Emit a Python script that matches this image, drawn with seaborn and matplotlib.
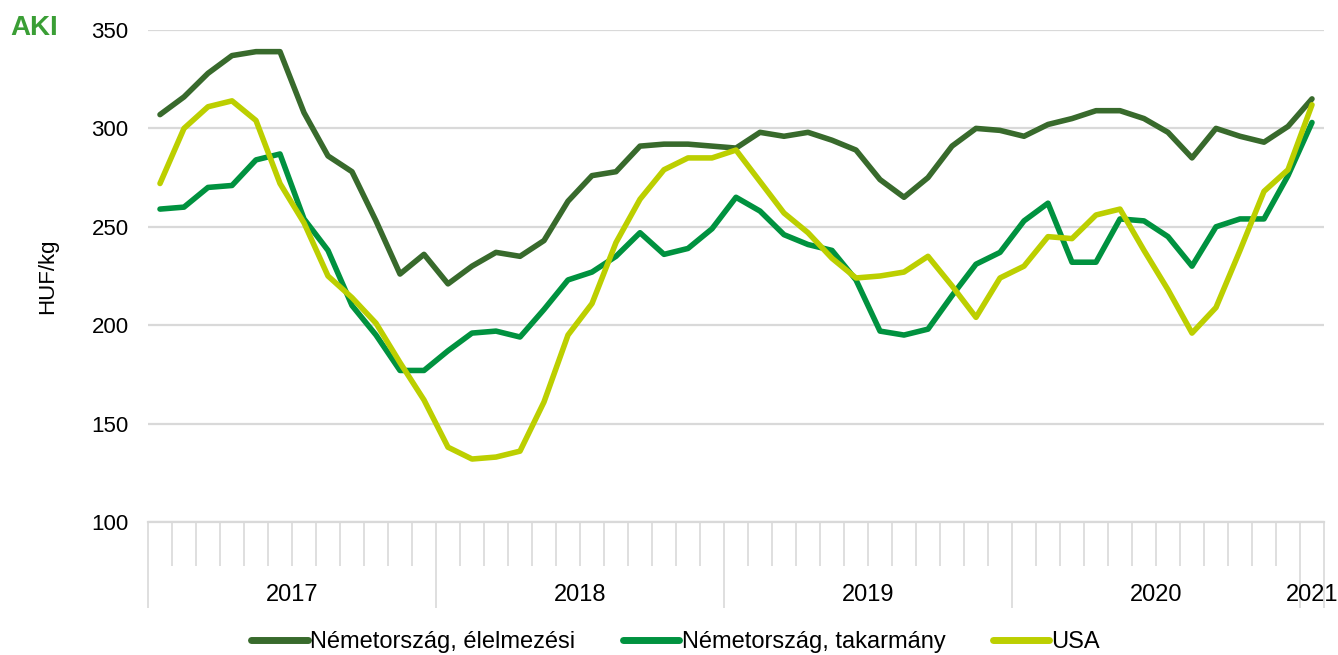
import matplotlib
matplotlib.use("Agg")
import matplotlib.pyplot as plt
import matplotlib.transforms as mtransforms
import numpy as np
import pandas as pd
import seaborn as sns

# havi adatok: 2017 január - 2021 január
years = ["2017", "2018", "2019", "2020", "2021"]
months_per_year = [12, 12, 12, 12, 1]

series_names = ["Németország, élelmezési", "Németország, takarmány", "USA"]
colors = ["#386a2c", "#00923f", "#bccf00"]

elelmezesi = [307, 316, 328, 337, 339, 339, 308, 286, 278, 253, 226, 236, 221,
              230, 237, 235, 243, 263, 276, 278, 291, 292, 292, 291, 290,
              298, 296, 298, 294, 289, 274, 265, 275, 291, 300, 299, 296,
              302, 305, 309, 309, 305, 298, 285, 300, 296, 293, 301, 315]
takarmany = [259, 260, 270, 271, 284, 287, 254, 238, 210, 195, 177, 177, 187,
             196, 197, 194, 208, 223, 227, 235, 247, 236, 239, 249, 265,
             258, 246, 241, 238, 223, 197, 195, 198, 215, 231, 237, 253,
             262, 232, 232, 254, 253, 245, 230, 250, 254, 254, 276, 303]
usa = [272, 300, 311, 314, 304, 272, 252, 225, 214, 201, 181, 162, 138,
       132, 133, 136, 161, 195, 211, 242, 264, 279, 285, 285, 289,
       273, 257, 247, 234, 224, 225, 227, 235, 220, 204, 224, 230,
       245, 244, 256, 259, 238, 218, 196, 209, 238, 268, 279, 312]

n = len(elelmezesi)
df = pd.DataFrame({
    "idx": list(range(n)) * 3,
    "ertek": elelmezesi + takarmany + usa,
    "sorozat": [series_names[0]] * n + [series_names[1]] * n + [series_names[2]] * n,
})

sns.set_theme(style="white")
plt.rcParams["font.family"] = ["Liberation Sans", "DejaVu Sans"]
plt.rcParams["text.color"] = "black"

W, H = 1338, 655
fig = plt.figure(figsize=(W / 100, H / 100), dpi=100)
ax = fig.add_axes([148 / W, 1 - 522 / H, 1176 / W, 492 / H])

sns.lineplot(
    data=df, x="idx", y="ertek", hue="sorozat", hue_order=series_names,
    palette=colors, linewidth=4, ax=ax, legend=False,
)

grid_c = "#d9d9d9"
ax.set_xlim(-0.5, n - 0.5)
ax.set_ylim(100, 350)
ax.set_yticks(np.arange(100, 351, 50))
ax.yaxis.grid(True, color=grid_c, linewidth=1.6)
ax.set_axisbelow(True)
for s in ["top", "right", "left"]:
    ax.spines[s].set_visible(False)
ax.spines["bottom"].set_color(grid_c)
ax.spines["bottom"].set_linewidth(1.6)

# kategória tengely: havi rövid, évhatár hosszú jelölők
bounds = np.cumsum([0] + months_per_year) - 0.5
ax.set_xticks(bounds)
ax.set_xticks(np.arange(-0.5, n, 1), minor=True)
ax.set_xticklabels([])
ax.tick_params(axis="x", which="both", bottom=True, direction="out")
ax.tick_params(axis="x", which="major", length=62, width=1.2, color=grid_c)
ax.tick_params(axis="x", which="minor", length=32, width=1.2, color=grid_c)
ax.tick_params(axis="y", length=0, pad=14, labelsize=16, labelcolor="black")

trans = mtransforms.blended_transform_factory(ax.transData, ax.transAxes)
for i, y in enumerate(years):
    cx = (bounds[i] + bounds[i + 1]) / 2
    ax.text(cx, -0.148, y, transform=trans, ha="center", va="center",
            fontsize=17, color="black")

ax.set_xlabel("")
ax.set_ylabel("HUF/kg", fontsize=16, labelpad=24, color="black")

handles = ax.get_lines()[:3]
leg = fig.legend(
    handles, series_names, loc="center", bbox_to_anchor=(0.505, 0.02), ncol=3,
    frameon=False, fontsize=17, handlelength=2.4, handletextpad=0.1,
    columnspacing=2.0, labelcolor="black",
)
for line in leg.get_lines():
    line.set_linewidth(5)

# AKI logó
fig.text(10 / W, 1 - 28 / H, "AKI", color="#3a9e35", fontsize=20,
         fontweight="bold", ha="left", va="center")

fig.savefig("out.png", dpi=100, facecolor="white")
